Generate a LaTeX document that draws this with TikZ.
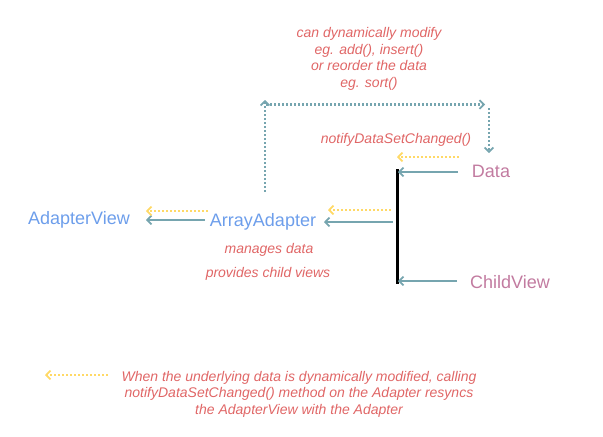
\documentclass[tikz,border=0pt]{standalone}
\usepackage{fontspec}
\setmainfont{Liberation Sans}
\usetikzlibrary{arrows.meta}
\definecolor{teal1}{HTML}{76A5AF}
\definecolor{yel1}{HTML}{FFD966}
\definecolor{red1}{HTML}{E06666}
\definecolor{blue1}{HTML}{6D9EEB}
\definecolor{pink1}{HTML}{C27BA0}
\begin{document}
\begin{tikzpicture}[x=0.75pt,y=-0.75pt,
  tip/.style={-{Straight Barb[length=3.2pt,width=6.5pt,line width=1.3pt]}},
  solidarrow/.style={tip,draw=teal1,line width=1.6pt},
  dotteal/.style={tip,draw=teal1,line width=1.6pt,dash pattern=on 1.2pt off 1.8pt},
  dotyel/.style={tip,draw=yel1,line width=1.6pt,dash pattern=on 1.2pt off 1.8pt},
  big/.style={font=\fontsize{13.5pt}{16pt}\selectfont,inner sep=0pt},
  note/.style={font=\fontsize{10.5pt}{12.4pt}\selectfont\itshape,text=red1,inner sep=0pt,align=center}]
\useasboundingbox (0,0) rectangle (603,436);
% main labels
\node[big,text=pink1] (data) at (491,171) {Data};
\node[big,text=pink1] (child) at (510,282) {ChildView};
\node[big,text=blue1] (array) at (263,222) {ArrayAdapter};
\node[big,text=blue1] (aview) at (79,220) {AdapterView};
% notes
\node[note] (top) at (369,59) {can dynamically modify\\eg. add(), insert()\\or reorder the data\\eg. sort()};
\node[note] (notify) at (396,140) {notifyDataSetChanged()};
\node[note] (manage) at (269,250) {manages data};
\node[note] (provide) at (268,274) {provides child views};
\node[note] (bottom) at (299,394) {When the underlying data is dynamically modified, calling\\notifyDataSetChanged() method on the Adapter resyncs\\the AdapterView with the Adapter};
% coordinates
\coordinate (bartop) at (397.5,169);
\coordinate (barbot) at (397.5,284);
\coordinate (d1) at (458,172); \coordinate (d2) at (398,172);
\coordinate (dy1) at (459,157); \coordinate (dy2) at (397,157);
\coordinate (c1) at (457,281); \coordinate (c2) at (398,281);
\coordinate (a1) at (393,222); \coordinate (a2) at (324,222);
\coordinate (ay1) at (391,210); \coordinate (ay2) at (328,210);
\coordinate (v1) at (205,220); \coordinate (v2) at (146,220);
\coordinate (vy1) at (208,211); \coordinate (vy2) at (146,211);
\coordinate (by1) at (108,375); \coordinate (by2) at (45,375);
\coordinate (l1) at (265,192); \coordinate (l2) at (265,100);
\coordinate (h1) at (266,104.5); \coordinate (h2) at (485,104.5);
\coordinate (r1) at (489,108); \coordinate (r2) at (489,153);
% bar
\draw[line width=1.6pt,black] (bartop) -- (barbot);
% solid arrows
\draw[solidarrow] (d1) -- (d2);
\draw[solidarrow] (c1) -- (c2);
\draw[solidarrow] (a1) -- (a2);
\draw[solidarrow] (v1) -- (v2);
% yellow dotted
\draw[dotyel] (dy1) -- (dy2);
\draw[dotyel] (ay1) -- (ay2);
\draw[dotyel] (vy1) -- (vy2);
\draw[dotyel] (by1) -- (by2);
% teal dotted loop
\draw[dotteal] (l1) -- (l2);
\draw[dotteal] (h1) -- (h2);
\draw[dotteal] (r1) -- (r2);
\end{tikzpicture}
\end{document}
